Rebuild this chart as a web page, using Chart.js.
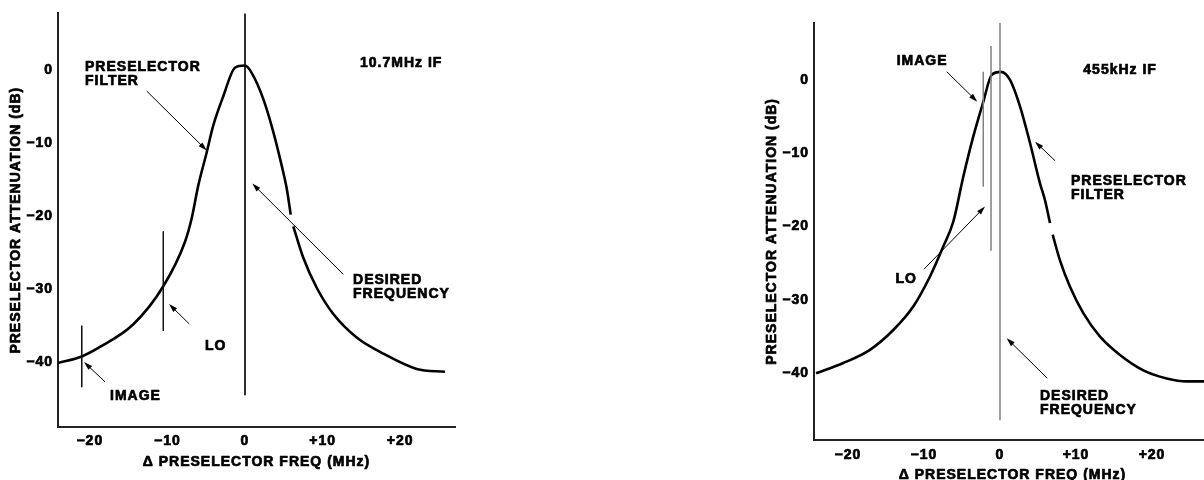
<!DOCTYPE html>
<html>
<head>
<meta charset="utf-8">
<script src="https://cdn.jsdelivr.net/npm/chart.js@4.4.1/dist/chart.umd.min.js"></script>
<style>
  html, body { margin: 0; padding: 0; background: #fff; overflow: hidden; width: 1204px; height: 480px; }
  #caixaEsq { position: absolute; left: 0; top: 0; width: 600px; height: 480px; }
  #caixaDir { position: absolute; left: 600px; top: 0; width: 620px; height: 490px; }
</style>
</head>
<body>
<div id="caixaEsq"><canvas id="graficoEsq"></canvas></div>
<div id="caixaDir"><canvas id="graficoDir"></canvas></div>
<script>
// eixos (iguais nos dois graficos)
const ticksX = [-20, -10, 0, 10, 20];
const rotulosX = ["−20", "−10", "0", "+10", "+20"];
const ticksY = [0, -10, -20, -30, -40];
const rotulosY = ["0", "−10", "−20", "−30", "−40"];
const tituloX = "Δ PRESELECTOR FREQ (MHz)";
const tituloY = "PRESELECTOR ATTENUATION (dB)";

// 10.7MHz IF - curva do filtro (null = falha onde passa a seta)
const freqEsq = [-24.1, -21.04, -18.69, -14.39, -10.53, -7.73, -6.87, -6.02, -4.94, -4.09, -2.8, -1.29, 0, 0.86, 2.36, 3.65, 4.73, 5.37, 5.89, 6.05, 6.22, 7.51, 9.24, 11.38, 14.39, 17.82, 22.13, 25.77];
const atenEsq = [-40.1, -39.2, -37.9, -34.8, -29.6, -23.5, -20.3, -15.8, -11.3, -7.6, -3.6, 0.3, 0.6, -0.4, -4.0, -8.5, -13.1, -16.2, -19.8, null, -21.4, -25.7, -29.8, -33.4, -36.6, -38.8, -40.9, -41.3];
// linhas verticais: desired, LO, image
const marcasFreqEsq = [0, -10.53, -21.04];
const marcasTopoEsq = [7.73, -22.1, -35.0];
const marcasBaseEsq = [-44.5, -35.7, -43.4];

// 455kHz IF
const freqDir = [-24.2, -20.62, -17.11, -14.04, -11.41, -9.21, -7.46, -6.14, -4.83, -3.51, -2.2, -1.09, 0.13, 1.32, 2.63, 3.95, 5.26, 5.92, 6.58, 6.75, 6.93, 7.89, 9.21, 10.96, 13.16, 15.79, 18.86, 21.93, 24.57, 26.75, 27.7];
const atenDir = [-40.0, -38.6, -36.8, -34.1, -30.9, -26.8, -22.7, -19.3, -13.2, -7.7, -3.0, 0.7, 1.1, 0.0, -3.6, -8.6, -14.1, -16.4, -19.5, null, -21.1, -24.6, -28.2, -31.8, -35.0, -37.5, -39.6, -40.7, -41.1, -41.1, -41.1];
const marcasFreqDir = [0, -1.18, -2.2];
const marcasTopoDir = [7.81, 4.64, 1.13];
const marcasBaseDir = [-46.4, -23.3, -14.55];

// textos e setas (em MHz / dB)
const textosEsq = [
  { linhas: ["PRESELECTOR", "FILTER"], x: -20.62, y: 0.43 },
  { linhas: ["10.7MHz IF"], x: 14.82, y: 0.95 },
  { linhas: ["DESIRED", "FREQUENCY"], x: 13.92, y: -28.75 },
  { linhas: ["LO"], x: -5.15, y: -37.83 },
  { linhas: ["IMAGE"], x: -17.4, y: -44.61 },
];
const setasEsq = [
  [-12.67, -2.89, -4.94, -11.02],
  [12.67, -27.97, 0.94, -15.55],
  [-7.18, -34.75, -9.79, -32.04],
  [-18.04, -42.67, -20.75, -39.96],
];
const textosDir = [
  { linhas: ["IMAGE"], x: -13.59, y: 2.5 },
  { linhas: ["LO"], x: -13.75, y: -27.23 },
  { linhas: ["PRESELECTOR", "FILTER"], x: 9.34, y: -13.77 },
  { linhas: ["455kHz IF"], x: 10.96, y: 1.36 },
  { linhas: ["DESIRED", "FREQUENCY"], x: 5.26, y: -43.09 },
];
const setasDir = [
  [-7.01, 1.13, -2.99, -2.96],
  [-10.0, -25.8, -1.97, -17.27],
  [7.24, -11.0, 4.61, -8.41],
  [6.22, -40.68, 0.88, -35.22],
];

const fonte = "'Liberation Sans', Arial, sans-serif";
const fonteTexto = "bold 14px " + fonte;

function desenharSeta(ctx, x1, y1, x2, y2) {
  const ang = Math.atan2(y2 - y1, x2 - x1);
  const tam = 9;
  const abre = 0.3;
  ctx.beginPath();
  ctx.moveTo(x1, y1);
  ctx.lineTo(x2 - Math.cos(ang) * tam * 0.7, y2 - Math.sin(ang) * tam * 0.7);
  ctx.stroke();
  ctx.beginPath();
  ctx.moveTo(x2, y2);
  ctx.lineTo(x2 - tam * Math.cos(ang - abre), y2 - tam * Math.sin(ang - abre));
  ctx.lineTo(x2 - tam * Math.cos(ang + abre), y2 - tam * Math.sin(ang + abre));
  ctx.closePath();
  ctx.fill();
}

// texto negrito "pesado": preenche e contorna
function escrever(ctx, texto, x, y) {
  ctx.fillText(texto, x, y);
  ctx.strokeText(texto, x, y);
}

function pluginNotas(textos, setas) {
  return {
    id: "notas",
    beforeDraw(chart) {
      chart.ctx.letterSpacing = "1px";
    },
    afterDraw(chart) {
      const ctx = chart.ctx;
      const sx = chart.scales.x;
      const sy = chart.scales.y;
      const area = chart.chartArea;
      ctx.save();
      ctx.letterSpacing = "1px";
      ctx.font = fonteTexto;
      ctx.fillStyle = "#000";
      ctx.strokeStyle = "#000";
      ctx.lineWidth = 0.7;
      ctx.lineJoin = "round";
      ctx.textBaseline = "middle";

      // titulos dos eixos
      ctx.textAlign = "center";
      escrever(ctx, tituloX, (area.left + area.right) / 2, area.bottom + 35.4);
      ctx.save();
      ctx.translate(area.left - 42, (area.top + area.bottom) / 2);
      ctx.rotate(-Math.PI / 2);
      escrever(ctx, tituloY, 0, 0);
      ctx.restore();

      // anotacoes
      ctx.textAlign = "left";
      for (const t of textos) {
        const px = sx.getPixelForValue(t.x);
        const py = sy.getPixelForValue(t.y);
        for (let i = 0; i < t.linhas.length; i++) {
          escrever(ctx, t.linhas[i], px, py + i * 14.5);
        }
      }
      ctx.lineWidth = 1;
      for (const s of setas) {
        desenharSeta(ctx, sx.getPixelForValue(s[0]), sy.getPixelForValue(s[1]),
          sx.getPixelForValue(s[2]), sy.getPixelForValue(s[3]));
      }
      ctx.restore();
    },
  };
}

function montarDatasets(freq, aten, mFreq, mTopo, mBase, corMarca, largMarca) {
  const pontos = [];
  for (let i = 0; i < freq.length; i++) {
    pontos.push({ x: freq[i], y: aten[i] });
  }
  const datasets = [];
  for (let i = 0; i < mFreq.length; i++) {
    datasets.push({
      data: [{ x: mFreq[i], y: mTopo[i] }, { x: mFreq[i], y: mBase[i] }],
      borderColor: corMarca,
      borderWidth: largMarca,
      pointRadius: 0,
    });
  }
  datasets.push({
    data: pontos,
    borderColor: "#000",
    borderWidth: 2.6,
    pointRadius: 0,
    spanGaps: false,
    cubicInterpolationMode: "monotone",
  });
  return datasets;
}

function criarGrafico(id, p) {
  const ticksFonte = { family: fonte, size: 14, weight: "bold" };
  const config = {
    type: "scatter",
    data: {
      datasets: montarDatasets(p.freq, p.aten, p.mFreq, p.mTopo, p.mBase, p.corMarca, p.largMarca),
    },
    options: {
      responsive: true,
      maintainAspectRatio: false,
      animation: false,
      showLine: true,
      layout: { padding: p.padding },
      plugins: {
        legend: { display: false },
        tooltip: { enabled: false },
      },
      scales: {
        x: {
          type: "linear",
          min: p.xMin,
          max: p.xMax,
          grid: { display: false, drawTicks: false },
          border: { display: true, color: "#222", width: 2 },
          afterBuildTicks: (axis) => {
            axis.ticks = ticksX.map((v) => ({ value: v }));
          },
          afterFit: (axis) => {
            axis.height = p.alturaX;
          },
          ticks: {
            autoSkip: false,
            maxRotation: 0,
            padding: p.padTickX,
            color: "#000",
            textStrokeColor: "#000",
            textStrokeWidth: 0.7,
            font: ticksFonte,
            callback: (v) => rotulosX[ticksX.indexOf(v)],
          },
        },
        y: {
          type: "linear",
          min: p.yMin,
          max: p.yMax,
          grid: { display: false, drawTicks: false },
          border: { display: true, color: "#222", width: 2 },
          afterBuildTicks: (axis) => {
            axis.ticks = ticksY.map((v) => ({ value: v }));
          },
          afterFit: (axis) => {
            axis.width = 58;
          },
          ticks: {
            autoSkip: false,
            padding: 5,
            color: "#000",
            textStrokeColor: "#000",
            textStrokeWidth: 0.7,
            font: ticksFonte,
            callback: (v) => rotulosY[ticksY.indexOf(v)],
          },
        },
      },
    },
    plugins: [pluginNotas(p.textos, p.setas)],
  };
  return new Chart(document.getElementById(id), config);
}

criarGrafico("graficoEsq", {
  freq: freqEsq, aten: atenEsq,
  mFreq: marcasFreqEsq, mTopo: marcasTopoEsq, mBase: marcasBaseEsq,
  corMarca: "#111", largMarca: 1,
  textos: textosEsq, setas: setasEsq,
  xMin: -24.1, xMax: 27.06, yMin: -48.85, yMax: 7.73,
  padding: { left: 0, top: 10, right: 145, bottom: 0 },
  alturaX: 53, padTickX: 6,
});

criarGrafico("graficoDir", {
  freq: freqDir, aten: atenDir,
  mFreq: marcasFreqDir, mTopo: marcasTopoDir, mBase: marcasBaseDir,
  corMarca: "#808080", largMarca: 1.5,
  textos: textosDir, setas: setasDir,
  xMin: -24.47, xMax: 27.76, yMin: -49.1, yMax: 7.81,
  padding: { left: 156, top: 22.7, right: 9, bottom: 0 },
  alturaX: 50, padTickX: 6.6,
});
</script>
</body>
</html>
